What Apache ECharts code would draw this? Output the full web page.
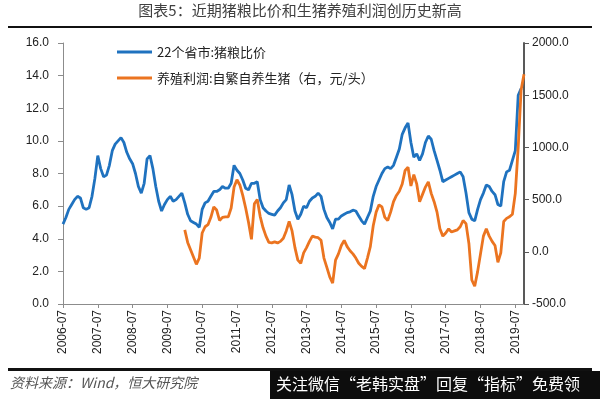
<!DOCTYPE html>
<html>
<head>
<meta charset="utf-8">
<style>
  html, body { margin: 0; padding: 0; background: #fff; }
  #main { width: 600px; height: 399px; }
</style>
<script src="https://cdn.jsdelivr.net/npm/echarts@6/dist/echarts.min.js"></script>
</head>
<body>
<div id="main"></div>
<script>
// 月度数据: 2006-07 ~ 2019-10
let startYear = 2006
let startMonth = 7
let monthCount = 160

// 22个省市:猪粮比价
let ratio = [
  4.9, 5.3, 5.8, 6.1, 6.4, 6.6, 6.5, 5.9, 5.8, 5.9, 6.6, 7.7,
  9.1, 8.3, 7.8, 7.9, 8.5, 9.4, 9.8, 10.0, 10.2, 9.9, 9.3, 8.9,
  8.6, 8.0, 7.2, 6.8, 7.4, 8.9, 9.1, 8.3, 7.2, 6.3, 5.7, 6.1,
  6.4, 6.6, 6.3, 6.4, 6.6, 6.8, 6.2, 5.5, 5.1, 5.0, 4.9, 4.7,
  5.8, 6.2, 6.3, 6.6, 6.9, 6.9, 7.0, 7.2, 7.1, 7.1, 7.4, 8.5,
  8.2, 8.0, 7.6, 7.1, 7.0, 7.4, 7.4, 7.5, 6.4, 5.9, 5.7, 5.55,
  5.5, 5.45, 5.7, 5.9, 6.2, 6.4, 7.3, 6.7, 5.7, 5.2, 5.5, 6.0,
  5.9, 6.3, 6.5, 6.6, 6.8, 6.6, 5.8, 5.3, 5.0, 4.6, 5.2, 5.2,
  5.4, 5.5, 5.6, 5.65, 5.75, 5.7, 5.4, 5.1, 4.9, 5.3, 5.7, 6.6,
  7.2, 7.6, 8.0, 8.3, 8.4, 8.3, 8.5, 9.0, 9.5, 10.4, 10.8, 11.1,
  9.9, 9.0, 9.2, 8.8, 9.2, 9.9, 10.3, 10.1, 9.4, 8.8, 8.2, 7.5,
  7.6, 7.7, 7.8, 7.9, 8.0, 8.1, 7.8, 6.8, 5.6, 5.2, 5.1, 5.8,
  6.4, 6.8, 7.3, 7.2, 6.9, 6.7, 6.1, 6.0, 7.5, 8.1, 8.2, 8.8,
  9.4, 12.8, 13.2, null
]

// 养殖利润:自繁自养生猪（元/头），2009-12 起
let profitStart = 42
let profit = [
  210, 90, 20, -50, -120, -60,
  180, 240, 260, 330, 430, 400, 300, 330, 335, 335, 420, 620,
  690, 640, 540, 420, 280, 120, 460, 500, 340, 230, 150, 90,
  85, 95, 85, 100, 130, 200, 290, 200, 40, -80, -110, -10,
  40, 100, 150, 140, 135, 110, -60, -150, -240, -300, -80, -20,
  60, 110, 50, 10, -20, -60, -110, -140, -160, -60, 50, 250,
  380, 450, 430, 330, 300, 380, 480, 540, 580, 650, 780, 810,
  630, 740, 650, 480, 550, 620, 670, 560, 480, 380, 220, 150,
  180, 220, 190, 200, 210, 240, 300, 270, 80, -270, -330, -190,
  -20, 150, 220, 150, 100, 60, -100, -10, 290, 320, 335, 360,
  560, 1000, 1550, 1700
]

let leftTicks = { min: 0, max: 16, interval: 2 }
let rightTicks = { min: -500, max: 2000, interval: 500 }

// 月份类目
let months = []
for (let i = 0; i < monthCount; i++) {
  let m = startMonth - 1 + i
  let y = startYear + Math.floor(m / 12)
  let mm = (m % 12) + 1
  months.push(y + '-' + (mm < 10 ? '0' + mm : mm))
}

let profitData = []
for (let i = 0; i < monthCount; i++) {
  let k = i - profitStart
  profitData.push(k >= 0 && k < profit.length ? profit[k] : null)
}

let isJuly = (idx, val) => months[idx].slice(-2) === '07'

let chart = echarts.init(document.getElementById('main'))

let option = {
  backgroundColor: '#fff',
  animation: false,
  textStyle: { fontFamily: 'Noto Sans CJK SC' },
  grid: {
    left: 63,
    right: 76,
    top: 43,
    bottom: 95
  },
  legend: {
    orient: 'vertical',
    left: 112,
    top: 40,
    itemWidth: 35,
    itemHeight: 3,
    itemGap: 12,
    icon: 'rect',
    textStyle: {
      fontSize: 13,
      color: '#222',
      fontFamily: 'Noto Sans CJK SC',
      lineHeight: 14
    },
    data: ['22个省市:猪粮比价', '养殖利润:自繁自养生猪（右，元/头）']
  },
  xAxis: {
    type: 'category',
    boundaryGap: false,
    data: months,
    axisLine: { lineStyle: { color: '#8c8c8c', width: 1 } },
    axisTick: { interval: isJuly, length: 4, lineStyle: { color: '#8c8c8c' } },
    axisLabel: {
      interval: isJuly,
      rotate: 90,
      margin: 6,
      fontSize: 12,
      color: '#222',
      fontFamily: 'Liberation Sans'
    },
    splitLine: { show: false }
  },
  yAxis: [
    {
      type: 'value',
      min: leftTicks.min,
      max: leftTicks.max,
      interval: leftTicks.interval,
      axisLine: { show: true, lineStyle: { color: '#8c8c8c', width: 1 } },
      axisTick: { show: true, length: 5, lineStyle: { color: '#8c8c8c' } },
      axisLabel: {
        margin: 14,
        fontSize: 12,
        color: '#222',
        fontFamily: 'Liberation Sans',
        formatter: v => v.toFixed(1)
      },
      splitLine: { show: false }
    },
    {
      type: 'value',
      min: rightTicks.min,
      max: rightTicks.max,
      interval: rightTicks.interval,
      axisLine: { show: true, lineStyle: { color: '#595959', width: 2 } },
      axisTick: { show: true, length: 5, lineStyle: { color: '#595959' } },
      axisLabel: {
        margin: 8,
        fontSize: 12,
        color: '#222',
        fontFamily: 'Liberation Sans',
        formatter: v => v.toFixed(1)
      },
      splitLine: { show: false }
    }
  ],
  series: [
    {
      name: '22个省市:猪粮比价',
      type: 'line',
      data: ratio,
      yAxisIndex: 0,
      symbol: 'none',
      itemStyle: { color: '#1f72bf' },
      lineStyle: { color: '#1f72bf', width: 2.8 }
    },
    {
      name: '养殖利润:自繁自养生猪（右，元/头）',
      type: 'line',
      data: profitData,
      yAxisIndex: 1,
      symbol: 'none',
      itemStyle: { color: '#eb7420' },
      lineStyle: { color: '#eb7420', width: 2.8 }
    }
  ],
  graphic: [
    {
      type: 'text',
      left: 'center',
      top: 3,
      style: {
        text: '图表5：近期猪粮比价和生猪养殖利润创历史新高',
        fontSize: 15,
        fill: '#404040',
        fontFamily: 'Noto Sans CJK SC'
      }
    },
    {
      type: 'rect',
      shape: { x: 8, y: 26, width: 584, height: 2 },
      style: { fill: '#111' }
    },
    {
      type: 'rect',
      shape: { x: 8, y: 368, width: 584, height: 3 },
      style: { fill: '#111' }
    },
    {
      type: 'text',
      left: 10,
      top: 376,
      style: {
        text: '资料来源：Wind，恒大研究院',
        fontSize: 14,
        fontStyle: 'italic',
        fill: '#555',
        fontFamily: 'Noto Sans CJK SC'
      }
    },
    {
      type: 'rect',
      shape: { x: 270, y: 371, width: 330, height: 28 },
      style: { fill: '#0d0d0d' }
    },
    {
      type: 'text',
      left: 276,
      top: 376,
      style: {
        text: '关注微信“老韩实盘”回复“指标”免费领',
        fontSize: 16,
        fill: '#fff',
        fontFamily: 'Noto Sans CJK SC'
      }
    }
  ]
}

chart.setOption(option)
</script>
</body>
</html>
